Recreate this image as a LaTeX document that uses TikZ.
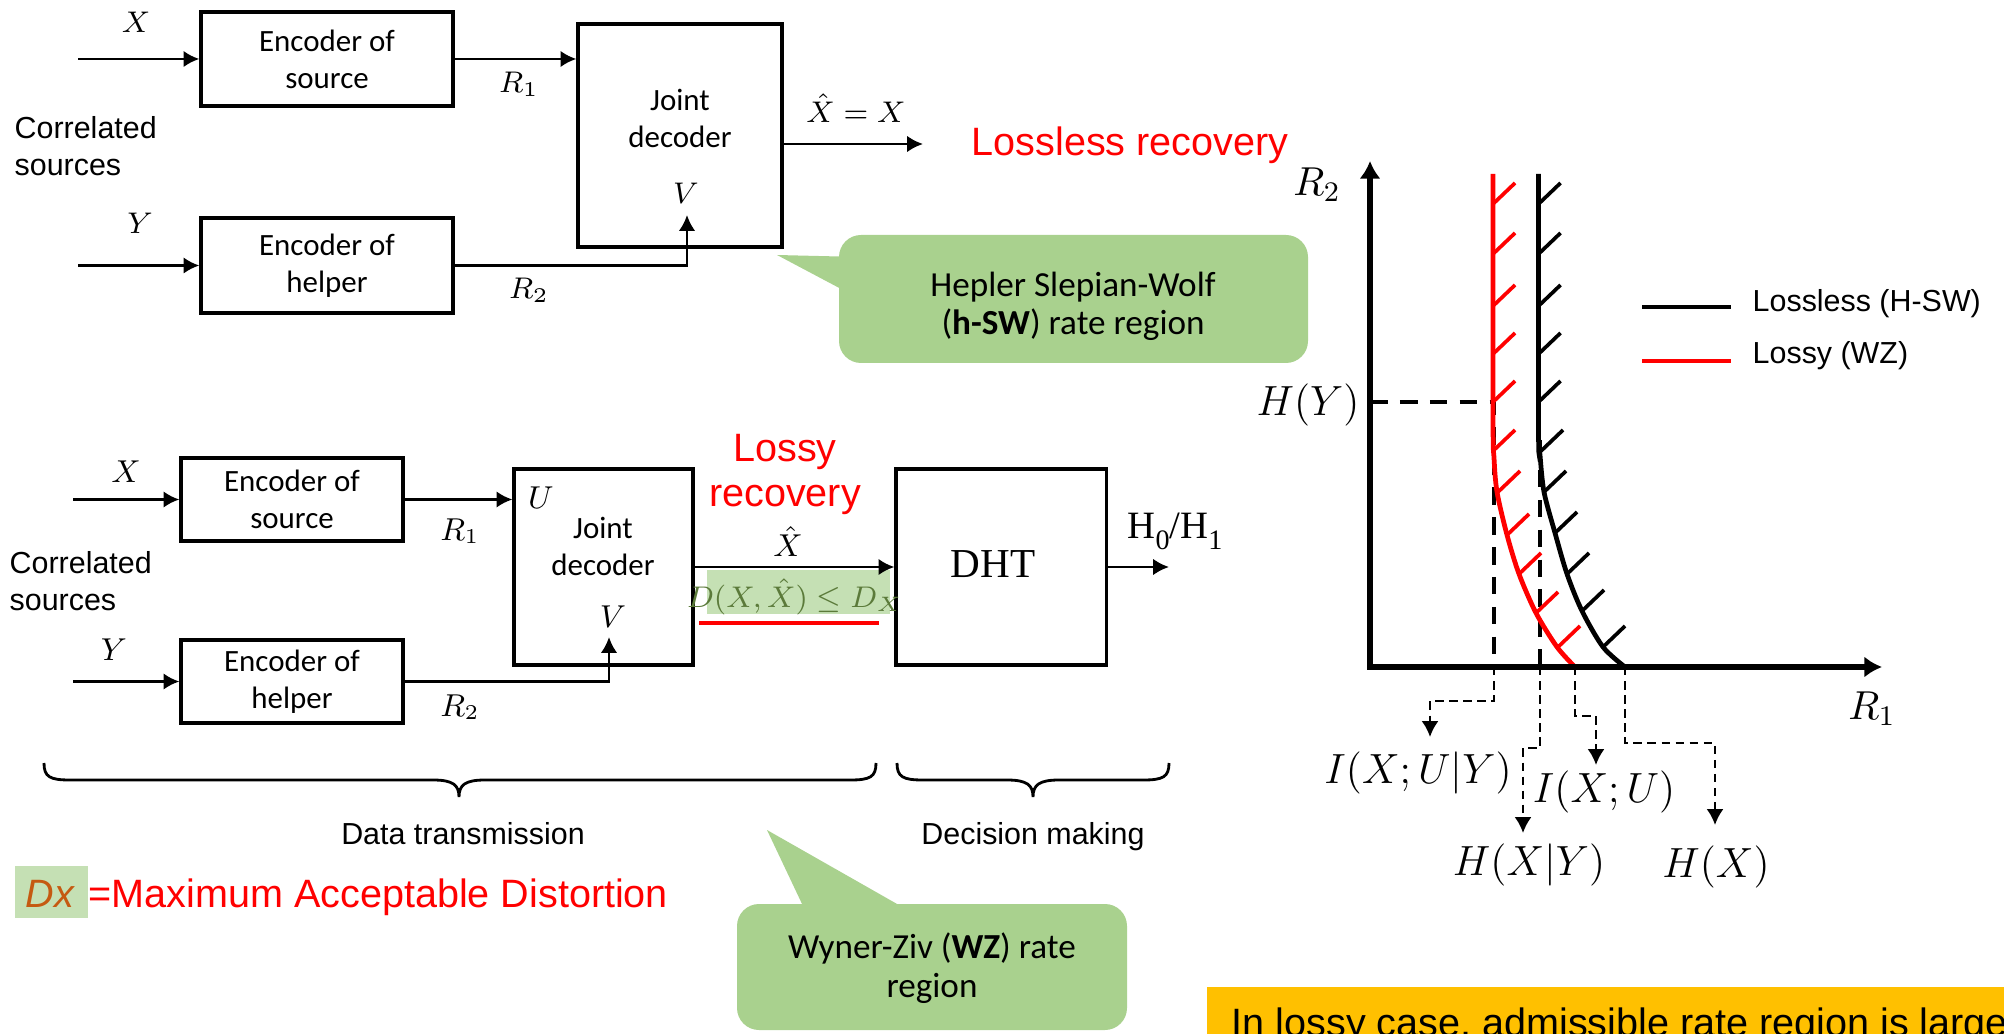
\RequirePackage{fix-cm}
\documentclass[tikz,border=0pt]{standalone}
\usepackage[no-math]{fontspec}
\newfontfamily\calib{Carlito}
\newfontfamily\arialf{Liberation Sans}
\newfontfamily\timesf{Liberation Serif}
\usetikzlibrary{arrows.meta}
\definecolor{callg}{HTML}{A9D18E}
\definecolor{lightg}{HTML}{C5E0B4}
\definecolor{dgreen}{HTML}{5B7A3A}
\definecolor{dxorange}{HTML}{C55A11}
\definecolor{pptred}{HTML}{FF0000}
\definecolor{pptyellow}{HTML}{FFC000}
\newcommand{\fsz}[2]{\fontsize{#1}{#2}\selectfont}
\begin{document}
\begin{tikzpicture}[x=0.01cm,y=-0.01cm,
  blk/.style={draw,line width=0.9pt,inner sep=0pt},
  boxtxt/.style={font=\calib\fsz{8.8pt}{10.5pt},align=center,inner sep=0pt},
  sans/.style={font=\arialf\fsz{8.65pt}{10.5pt},inner sep=0pt,align=left},
  redtxt/.style={font=\arialf\fsz{11.25pt}{12.8pt},text=pptred,inner sep=0pt,align=center},
  calltxt/.style={font=\calib\fsz{10pt}{11pt},align=center,inner sep=0pt},
  mtop/.style={font=\fsz{8.5pt}{10pt},inner sep=0pt},
  mlow/.style={font=\fsz{9pt}{11pt},inner sep=0pt},
  glab/.style={font=\fsz{12pt}{14pt},inner sep=0pt},
  arr/.style={line width=0.8pt,-{Latex[length=4.5pt,width=4.7pt]}},
  axisln/.style={line width=1.6pt,line join=miter,{Latex[length=5pt,width=6pt]}-{Latex[length=5pt,width=6pt]}},
  curveblk/.style={line width=1.35pt,black},
  curvered/.style={line width=1.35pt,pptred},
  hatchblk/.style={line width=1.05pt,black},
  hatchred/.style={line width=1.05pt,pptred},
  thickdash/.style={line width=1.2pt,dash pattern=on 5pt off 3.5pt},
  thindash/.style={line width=0.7pt,dash pattern=on 2.4pt off 1.6pt,-{Latex[length=4.5pt,width=4.8pt]}},
  bracestyle/.style={line width=0.8pt}
]
\useasboundingbox (0,0) rectangle (2004,1034);

% ================= top diagram =================
\node[blk,minimum width=2.52cm,minimum height=0.94cm,boxtxt] (es1) at (327,59) {Encoder of\\source};
\node[blk,minimum width=2.52cm,minimum height=0.95cm,boxtxt] (eh1) at (327,265.5) {Encoder of\\helper};
\node[blk,minimum width=2.04cm,minimum height=2.23cm] (jd1) at (680,135.5) {};
\node[boxtxt,anchor=north] (jd1t) at (680,89) {Joint\\decoder};
\coordinate (x1in) at (78,59);
\coordinate (y1in) at (78,265.5);
\coordinate (v1tip) at (687,215);
\coordinate (o1) at (923,144);
\draw[arr] (x1in) -- (es1.west);
\draw[arr] (y1in) -- (eh1.west);
\draw[arr] (es1.east) -- (es1.east -| jd1.west);
\draw[arr] (eh1.east) -| (v1tip);
\draw[arr] (o1 -| jd1.east) -- (o1);
\node[mtop] (lx1) at (136,22) {$X$};
\node[mtop] (ly1) at (140,223) {$Y$};
\node[mtop] (lr11) at (519,84) {$R_1$};
\node[mtop] (lr21) at (529,290) {$R_2$};
\node[mtop] (lv1) at (686,193) {$V$};
\node[mtop] (lxh1) at (856,108) {$\hat{X}=X$};
\node[sans,anchor=north west] (cs1) at (14,116) {Correlated\\sources};
\node[redtxt,anchor=base west] (lossless) at (971,156) {Lossless recovery};

% Hepler callout
\fill[callg,rounded corners=0.22cm] (839,235) rectangle (1308,363);
\fill[callg] (777,255) -- (860,257) -- (860,299) -- cycle;
\node[calltxt,anchor=north] (hsw) at (1073,271) {Hepler Slepian-Wolf\\(\textbf{h-SW}) rate region};

% ================= lower diagram =================
\fill[lightg] (707,570) rectangle (890,614);
\node[blk,minimum width=2.22cm,minimum height=0.83cm,boxtxt] (es2) at (292,499.5) {Encoder of\\source};
\node[blk,minimum width=2.22cm,minimum height=0.83cm,boxtxt] (eh2) at (292,681.5) {Encoder of\\helper};
\node[blk,minimum width=1.79cm,minimum height=1.96cm] (jd2) at (603.5,567) {};
\node[boxtxt,anchor=north] (jd2t) at (603,517) {Joint\\decoder};
\node[blk,minimum width=2.10cm,minimum height=1.96cm] (dht) at (1001,567) {};
\node[font=\timesf\fsz{11.7pt}{14pt},inner sep=0pt] (dhtt) at (993,564) {DHT};
\coordinate (x2in) at (73,499.5);
\coordinate (y2in) at (73,681.5);
\coordinate (v2tip) at (609,637);
\coordinate (o2) at (1169,567);
\draw[arr] (x2in) -- (es2.west);
\draw[arr] (y2in) -- (eh2.west);
\draw[arr] (es2.east) -- (es2.east -| jd2.west);
\draw[arr] (eh2.east) -| (v2tip);
\draw[arr] (jd2.east) -- (dht.west);
\draw[arr] (dht.east) -- (o2);
\node[mlow] (lx2) at (126,472) {$X$};
\node[mlow] (ly2) at (114,650) {$Y$};
\node[mlow] (lr12) at (460,531) {$R_1$};
\node[mlow] (lr22) at (460,707) {$R_2$};
\node[mlow] (lu2) at (541,498) {$U$};
\node[mlow] (lv2) at (613,617) {$V$};
\node[mlow] (lxh2) at (788,542) {$\hat{X}$};
\node[font=\fsz{8.5pt}{10pt},inner sep=0pt,text=dgreen] (dist) at (795,597) {$D(X,\hat{X})\leq D_X$};
\coordinate (ul1) at (699,623);
\coordinate (ul2) at (879,623);
\draw[pptred,line width=1.4pt] (ul1) -- (ul2);
\node[redtxt,anchor=north] (lossy) at (785,434) {Lossy\\recovery};
\node[font=\timesf\fsz{11pt}{13pt},inner sep=0pt,anchor=base west] (h01) at (1127,538) {H\raisebox{-0.3em}{\fsz{8pt}{8pt}0}/H\raisebox{-0.3em}{\fsz{8pt}{8pt}1}};
\node[sans,anchor=north west] (cs2) at (9,551) {Correlated\\sources};

% braces
\draw[bracestyle] (44,763) .. controls (44,777) and (50,780) .. (70,780) -- (433,780)
  .. controls (453,780) and (459,785) .. (459,797)
  .. controls (459,785) and (465,780) .. (485,780) -- (850,780)
  .. controls (870,780) and (876,777) .. (876,763);
\draw[bracestyle] (897,763) .. controls (897,777) and (903,780) .. (923,780) -- (1007,780)
  .. controls (1027,780) and (1033,785) .. (1033,797)
  .. controls (1033,785) and (1039,780) .. (1059,780) -- (1143,780)
  .. controls (1163,780) and (1169,777) .. (1169,763);
\node[sans,anchor=base] (dtrans) at (463,844) {Data transmission};
\node[sans,anchor=base] (dmak) at (1033,844) {Decision making};

% Dx definition
\fill[lightg] (15,866) rectangle (88,918);
\node[font=\arialf\itshape\fsz{11.25pt}{13pt},text=dxorange,inner sep=0pt,anchor=base] (dx) at (50,907) {Dx};
\node[font=\arialf\fsz{11.25pt}{13pt},text=pptred,inner sep=0pt,anchor=base west] (maxd) at (88,907) {=Maximum Acceptable Distortion};

% WZ callout
\fill[callg,rounded corners=0.22cm] (737,904) rectangle (1127,1030);
\fill[callg] (767,830) -- (812,925) -- (934,925) -- cycle;
\node[calltxt,anchor=north] (wz) at (932,932) {Wyner-Ziv (\textbf{WZ}) rate\\region};

% ================= rate region graph =================
\coordinate (O) at (1370,667);
\coordinate (R2top) at (1370,161);
\coordinate (R1end) at (1882,667);
\coordinate (hy) at (1370,402);
\coordinate (hyc) at (1494,402);
\coordinate (ax1) at (1494,667);
\coordinate (bk) at (1540,440);
\coordinate (ax2) at (1540,667);
\coordinate (ax3) at (1575,667);
\coordinate (ax4) at (1625,667);
\draw[thickdash] (hy) -- (hyc) -- (ax1);
\draw[thickdash] (bk) -- (ax2);
\draw[curvered] plot[smooth] coordinates {(1493,174) (1493,420) (1494,458) (1497,492) (1507,535) (1519,574) (1536,613) (1557,647) (1575,667)};
\draw[curveblk] plot[smooth] coordinates {(1538.5,174) (1538.5,430) (1540,455) (1544,492) (1555,533) (1567,574) (1582,611) (1603,647) (1625,667)};
\foreach \hx/\hy in {1493/204,1493/254,1493/306,1493/354,1493/402,1493/451,1498/492,1507/535,1519/574,1536/613,1558/647}
  \draw[hatchred] (\hx,\hy) -- ++(22,-21);
\foreach \hx/\hy in {1538.5/204,1538.5/254,1538.5/306,1538.5/354,1538.5/402,1541/451,1544/492,1555/533,1567/574,1582/611,1603/647}
  \draw[hatchblk] (\hx,\hy) -- ++(22,-21);
\draw[axisln] (R2top) -- (O) -- (R1end);
\node[font=\fsz{11.5pt}{13pt},inner sep=0pt] (lR2) at (1317,185) {$R_2$};
\node[font=\fsz{11.5pt}{13pt},inner sep=0pt] (lR1) at (1872,709) {$R_1$};
\node[glab] (lHY) at (1308,405) {$H(Y)$};
\node[glab] (l1) at (1418,773) {$I(X;U|Y)$};
\node[glab] (l2) at (1529,865) {$H(X|Y)$};
\node[glab] (l3) at (1604,792) {$I(X;U)$};
\node[glab] (l4) at (1716,867) {$H(X)$};
\coordinate (t1) at (1430,737);
\coordinate (t2) at (1523,833);
\coordinate (t3) at (1596,765);
\coordinate (t4) at (1715,825);
\draw[thindash] (ax1) -- (1494,701) -| (t1);
\draw[thindash] (ax2) -- (1540,748) -| (t2);
\draw[thindash] (ax3) -- (1575,716) -| (t3);
\draw[thindash] (ax4) -- (1625,743) -| (t4);

% legend
\coordinate (lg1a) at (1642,307);
\coordinate (lg1b) at (1731,307);
\coordinate (lg2a) at (1642,361);
\coordinate (lg2b) at (1731,361);
\draw[line width=1.2pt] (lg1a) -- (lg1b);
\draw[line width=1.2pt,pptred] (lg2a) -- (lg2b);
\node[sans,anchor=base west] (leg1) at (1752,312) {Lossless (H-SW)};
\node[sans,anchor=base west] (leg2) at (1752,364) {Lossy (WZ)};

% yellow note (cut by the page edge)
\begin{scope}
\clip (0,0) rectangle (2004,1034);
\fill[pptyellow] (1207,987) rectangle (2010,1040);
\node[font=\arialf\fsz{11.25pt}{13pt},inner sep=0pt,anchor=base west] (note) at (1231,1036.5) {In lossy case, admissible rate region is larger};
\end{scope}
\end{tikzpicture}
\end{document}
